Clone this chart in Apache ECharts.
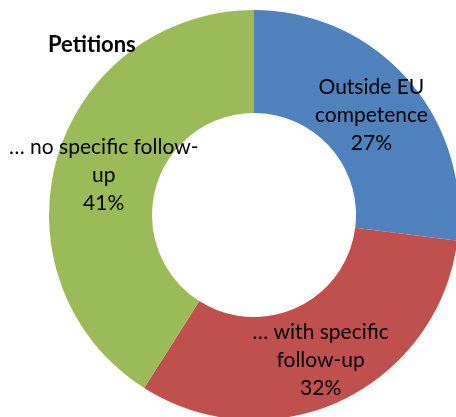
<!DOCTYPE html>
<html>
<head>
<meta charset="utf-8">
<script src="https://cdn.jsdelivr.net/npm/echarts@6/dist/echarts.min.js"></script>
<style>
html,body{margin:0;padding:0;background:#fff;}
#chart{width:456px;height:417px;}
</style>
</head>
<body>
<div id="chart"></div>
<script>
var categories = ["Outside EU\ncompetence", "… with specific\nfollow-up", "… no specific follow-\nup"];
var values = [27, 32, 41];
var colors = ["#4F81BD", "#C0504D", "#9BBB59"];
var titleText = "Petitions";

var chart = echarts.init(document.getElementById('chart'), null, {renderer: 'canvas'});
chart.setOption({
  backgroundColor: '#ffffff',
  animation: false,
  title: {
    text: titleText,
    left: 48,
    top: 34,
    padding: 0,
    textStyle: {fontFamily: 'Lato', fontWeight: 'bold', fontSize: 22, color: '#000'}
  },
  series: [{
    type: 'pie',
    center: [254, 215],
    radius: [102, 205],
    startAngle: 90,
    clockwise: true,
    avoidLabelOverlap: false,
    itemStyle: {borderWidth: 0},
    label: {
      show: true,
      position: 'inside',
      formatter: function (p) { return p.name + '\n' + p.value + '%'; },
      fontFamily: 'Lato',
      fontSize: 21,
      lineHeight: 28,
      offset: [0, 4],
      color: '#000',
      align: 'center'
    },
    labelLine: {show: false},
    emphasis: {disabled: true},
    data: categories.map(function (c, i) {
      return {name: c, value: values[i], itemStyle: {color: colors[i]}};
    })
  }]
});
</script>
</body>
</html>
